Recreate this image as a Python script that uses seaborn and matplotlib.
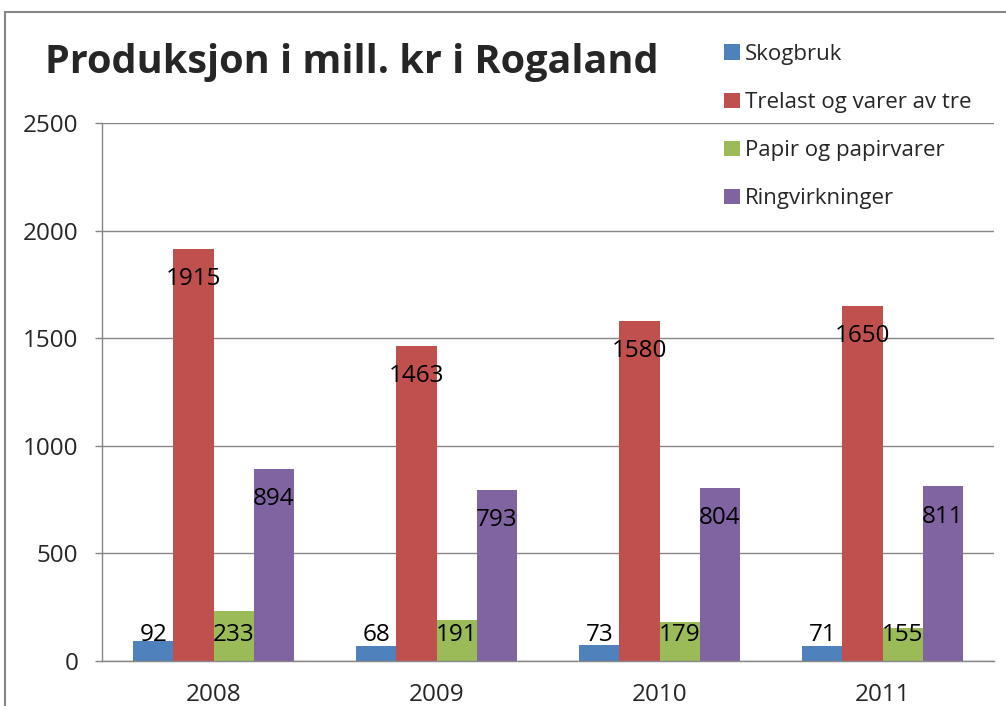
import matplotlib
matplotlib.use("Agg")
import matplotlib.pyplot as plt
from matplotlib.patches import Rectangle
import seaborn as sns
import pandas as pd

years = ["2008", "2009", "2010", "2011"]
series_names = ["Skogbruk", "Trelast og varer av tre", "Papir og papirvarer", "Ringvirkninger"]
skogbruk = [92, 68, 73, 71]
trelast = [1915, 1463, 1580, 1650]
papir = [233, 191, 179, 155]
ringvirkninger = [894, 793, 804, 811]
colors = ["#4F81BD", "#C0504D", "#9BBB59", "#8064A2"]
yticks = [0, 500, 1000, 1500, 2000, 2500]

rows = []
for name, vals in zip(series_names, [skogbruk, trelast, papir, ringvirkninger]):
    for yr, v in zip(years, vals):
        rows.append({"year": yr, "series": name, "value": v})
df = pd.DataFrame(rows)

sns.set_style("white")
plt.rcParams['font.family'] = ['Open Sans', 'DejaVu Sans']
FS = 17.5
GRAY = "#868686"

fig = plt.figure(figsize=(10.06, 7.06), dpi=100)
ax = fig.add_axes([102/1006, 1 - 661/706, (994 - 102)/1006, (661 - 123)/706])

sns.barplot(data=df, x="year", y="value", hue="series", hue_order=series_names,
            palette=colors, width=0.72, gap=0, saturation=1, ax=ax, linewidth=0)

# value labels just inside the top of each bar
for cont in ax.containers:
    for bar in cont:
        v = bar.get_height()
        ax.text(bar.get_x() + bar.get_width() / 2, max(v - 140, 120), f"{v:.0f}",
                ha="center", va="center", fontsize=FS, color="black")

ax.set_xlim(-0.5, 3.5)
ax.set_ylim(0, 2500)
ax.set_yticks(yticks)
ax.set_yticklabels([str(t) for t in yticks])
ax.set_xlabel("")
ax.set_ylabel("")
ax.yaxis.grid(True, color=GRAY, linewidth=1)
ax.set_axisbelow(True)
for s in ["top", "right"]:
    ax.spines[s].set_visible(False)
for s in ["left", "bottom"]:
    ax.spines[s].set_color(GRAY)
    ax.spines[s].set_linewidth(1)

ax.set_xticks([-0.5, 0.5, 1.5, 2.5, 3.5], minor=True)
ax.tick_params(axis="x", which="major", length=0, pad=16, labelsize=FS)
ax.tick_params(axis="x", which="minor", length=6, color=GRAY, width=1, direction="out")
ax.tick_params(axis="y", length=5, color=GRAY, width=1, direction="out", pad=12, labelsize=FS, left=True)

handles, labels = ax.get_legend_handles_labels()
ax.legend(handles, labels, loc="upper left", bbox_to_anchor=(704/1006, 1 - 24/706),
          bbox_transform=fig.transFigure, frameon=False, fontsize=16,
          handlelength=0.7, handleheight=0.7, handletextpad=0.25, labelspacing=1.22)

fig.text(45/1006, 1 - 62/706, "Produksjon i mill. kr i Rogaland", fontsize=28.5,
         fontweight="bold", va="center", ha="left")

fig.add_artist(Rectangle((5/1006, -0.2), 1.5, (706 - 12)/706 + 0.2, transform=fig.transFigure,
                         fill=False, edgecolor=GRAY, linewidth=1.5))

fig.savefig("out.png", dpi=100)
